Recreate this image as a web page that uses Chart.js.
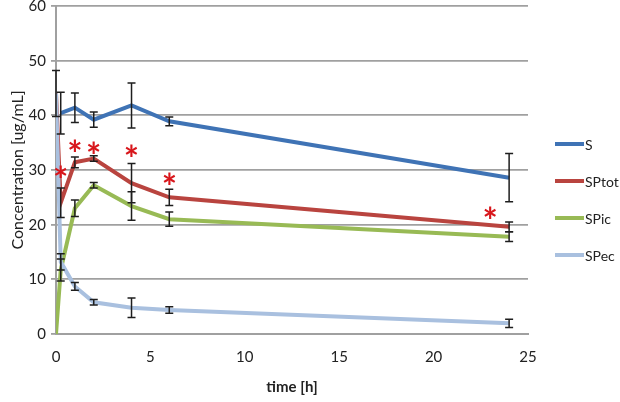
<!DOCTYPE html>
<html>
<head>
<meta charset="utf-8">
<script src="https://cdn.jsdelivr.net/npm/chart.js@4"></script>
<style>
  html, body { margin: 0; padding: 0; background: #fff; }
  #wrap { width: 620px; height: 402px; }
</style>
</head>
<body>
<div id="wrap"><canvas id="concChart" width="620" height="402"></canvas></div>
<script>
// sampling times [h]
const times = [0, 0.25, 1, 2, 4, 6, 24];

// mean concentrations [ug/mL]
const sValues     = [null, 40.4, 41.4, 39.2, 41.8, 38.9, 28.6];
const sptotValues = [44.0, 24.0, 31.4, 32.1, 27.6, 25.0, 19.6];
const spicValues  = [0, 11.7, 23.0, 27.2, 23.4, 21.0, 17.8];
const specValues  = [44.0, 13.2, 8.7, 5.8, 4.8, 4.4, 1.95];

// standard deviations (error bars)
const sErrors     = [null, 3.8, 2.7, 1.4, 4.1, 0.8, 4.4];
const sptotErrors = [null, 2.7, 1.0, 0.5, 3.6, 1.5, 0.9];
const spicErrors  = [null, 2.0, 1.5, 0.5, 2.6, 1.3, 0.9];
const specErrors  = [4.2, 1.5, 0.7, 0.5, 1.8, 0.6, 0.75];

// significance markers (*)
const starTimes  = [0.25, 1, 2, 4, 6, 23.0];
const starValues = [29.7, 34.5, 34.2, 33.5, 28.5, 22.2];

const seriesLabels = ['S', 'SPtot', 'SPic', 'SPec'];
const seriesColors = ['#3f73b5', '#b9443f', '#98ba55', '#a9c0df'];

const FONT = 'Lato, "Open Sans", sans-serif';

function toPoints(values) {
    return times.map((t, i) => ({ x: t, y: values[i] }));
}

// error bars, asterisks and legend drawn with the chart scales
const extrasPlugin = {
    id: 'extras',
    afterDatasetsDraw(chart) {
        const { ctx, scales: { x, y } } = chart;
        ctx.save();

        // error bars
        ctx.strokeStyle = '#1e1e1e';
        ctx.lineWidth = 1.5;
        chart.data.datasets.forEach(ds => {
            ds.errorBars.forEach((e, i) => {
                const v = ds.values[i];
                if (e == null || v == null) return;
                const px = x.getPixelForValue(times[i]);
                const top = y.getPixelForValue(v + e);
                const bot = y.getPixelForValue(v - e);
                ctx.beginPath();
                ctx.moveTo(px, top); ctx.lineTo(px, bot);
                ctx.moveTo(px - 4, top); ctx.lineTo(px + 4, top);
                ctx.moveTo(px - 4, bot); ctx.lineTo(px + 4, bot);
                ctx.stroke();
            });
        });

        // asterisks
        ctx.fillStyle = '#d8161b';
        ctx.font = 'bold 36px ' + FONT;
        ctx.textAlign = 'center';
        ctx.textBaseline = 'alphabetic';
        const m = ctx.measureText('*');
        const shift = (m.actualBoundingBoxAscent - m.actualBoundingBoxDescent) / 2;
        starTimes.forEach((t, i) => {
            ctx.fillText('*', x.getPixelForValue(t), y.getPixelForValue(starValues[i]) + shift);
        });

        // legend
        ctx.font = '14px ' + FONT;
        ctx.textAlign = 'left';
        ctx.textBaseline = 'middle';
        ctx.lineWidth = 4;
        chart.data.datasets.forEach((ds, i) => {
            const ly = 144 + i * 37;
            ctx.strokeStyle = ds.borderColor;
            ctx.beginPath();
            ctx.moveTo(555, ly); ctx.lineTo(584, ly);
            ctx.stroke();
            ctx.fillStyle = '#222';
            ctx.fillText(ds.label, 585, ly + 1);
        });

        ctx.restore();
    }
};

function initializeChart() {
    const ctx = document.getElementById('concChart').getContext('2d');
    const allValues = [sValues, sptotValues, spicValues, specValues];
    const allErrors = [sErrors, sptotErrors, spicErrors, specErrors];

    new Chart(ctx, {
        type: 'line',
        data: {
            datasets: seriesLabels.map((label, i) => ({
                label: label,
                data: toPoints(allValues[i]),
                values: allValues[i],
                errorBars: allErrors[i],
                borderColor: seriesColors[i],
                backgroundColor: seriesColors[i],
                borderWidth: 4,
                pointRadius: 0,
                tension: 0,
                fill: false,
                order: 4 - i
            }))
        },
        options: {
            responsive: false,
            animation: false,
            layout: { padding: { left: 6, right: 92, top: 0, bottom: 0 } },
            plugins: {
                legend: { display: false },
                tooltip: { enabled: false }
            },
            scales: {
                x: {
                    type: 'linear',
                    min: 0,
                    max: 25,
                    afterFit: (scale) => { scale.height = 68; },
                    grid: { display: false, drawTicks: false },
                    border: { display: true, color: '#a0a0a0', width: 2 },
                    ticks: {
                        stepSize: 5,
                        padding: 14,
                        color: '#222',
                        font: { family: FONT, size: 15 }
                    },
                    title: {
                        display: true,
                        text: 'time [h]',
                        color: '#222',
                        padding: { top: 0, bottom: 6 },
                        font: { family: FONT, size: 15, weight: 'bold' }
                    }
                },
                y: {
                    min: 0,
                    max: 60,
                    afterFit: (scale) => {
                        scale.width = 50;
                        scale.paddingTop = 6;
                    },
                    grid: { color: '#a0a0a0', lineWidth: 1.8, tickLength: 5 },
                    border: { display: true, color: '#a0a0a0', width: 2 },
                    ticks: {
                        stepSize: 10,
                        padding: 5,
                        color: '#222',
                        font: { family: FONT, size: 15 }
                    },
                    title: {
                        display: true,
                        text: 'Concentration [ug/mL]',
                        color: '#222',
                        padding: { top: 2, bottom: 0 },
                        font: { family: FONT, size: 16 }
                    }
                }
            }
        },
        plugins: [extrasPlugin]
    });
}

document.addEventListener('DOMContentLoaded', initializeChart);
</script>
</body>
</html>
